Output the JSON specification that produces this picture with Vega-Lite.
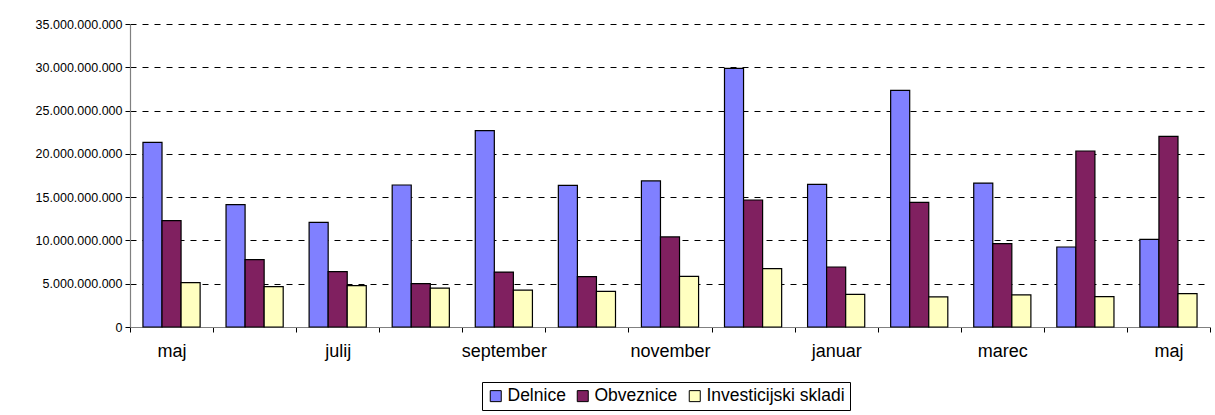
{
  "$schema": "https://vega.github.io/schema/vega-lite/v6.json",
  "width": 1080,
  "height": 303,
  "autosize": "none",
  "padding": {"left": 130, "top": 24, "right": 5, "bottom": 88},
  "background": "white",
  "data": {"values": [
    {"m": 1, "s": "Delnice", "v": 21.33}, {"m": 1, "s": "Obveznice", "v": 12.28}, {"m": 1, "s": "Investicijski skladi", "v": 5.12},
    {"m": 2, "s": "Delnice", "v": 14.13}, {"m": 2, "s": "Obveznice", "v": 7.78}, {"m": 2, "s": "Investicijski skladi", "v": 4.66},
    {"m": 3, "s": "Delnice", "v": 12.09}, {"m": 3, "s": "Obveznice", "v": 6.39}, {"m": 3, "s": "Investicijski skladi", "v": 4.77},
    {"m": 4, "s": "Delnice", "v": 16.4}, {"m": 4, "s": "Obveznice", "v": 5.0}, {"m": 4, "s": "Investicijski skladi", "v": 4.5},
    {"m": 5, "s": "Delnice", "v": 22.68}, {"m": 5, "s": "Obveznice", "v": 6.35}, {"m": 5, "s": "Investicijski skladi", "v": 4.27},
    {"m": 6, "s": "Delnice", "v": 16.37}, {"m": 6, "s": "Obveznice", "v": 5.81}, {"m": 6, "s": "Investicijski skladi", "v": 4.12},
    {"m": 7, "s": "Delnice", "v": 16.87}, {"m": 7, "s": "Obveznice", "v": 10.4}, {"m": 7, "s": "Investicijski skladi", "v": 5.85},
    {"m": 8, "s": "Delnice", "v": 29.88}, {"m": 8, "s": "Obveznice", "v": 14.67}, {"m": 8, "s": "Investicijski skladi", "v": 6.74},
    {"m": 9, "s": "Delnice", "v": 16.48}, {"m": 9, "s": "Obveznice", "v": 6.93}, {"m": 9, "s": "Investicijski skladi", "v": 3.77},
    {"m": 10, "s": "Delnice", "v": 27.34}, {"m": 10, "s": "Obveznice", "v": 14.4}, {"m": 10, "s": "Investicijski skladi", "v": 3.47},
    {"m": 11, "s": "Delnice", "v": 16.63}, {"m": 11, "s": "Obveznice", "v": 9.63}, {"m": 11, "s": "Investicijski skladi", "v": 3.7},
    {"m": 12, "s": "Delnice", "v": 9.24}, {"m": 12, "s": "Obveznice", "v": 20.33}, {"m": 12, "s": "Investicijski skladi", "v": 3.5},
    {"m": 13, "s": "Delnice", "v": 10.13}, {"m": 13, "s": "Obveznice", "v": 22.03}, {"m": 13, "s": "Investicijski skladi", "v": 3.85}
  ]},
  "mark": {"type": "bar", "stroke": "black", "strokeWidth": 1.2},
  "encoding": {
    "x": {
      "field": "m", "type": "ordinal",
      "scale": {"paddingInner": 0, "paddingOuter": 0},
      "axis": {
        "title": null, "labelAngle": 0, "tickBand": "extent",
        "labelExpr": "datum.value % 2 == 1 ? ['maj','junij','julij','avgust','september','oktober','november','december','januar','februar','marec','april','maj'][datum.value - 1] : ''",
        "labelFont": "Liberation Sans", "labelFontSize": 18, "labelColor": "black", "labelPadding": 10,
        "domainColor": "#808080", "tickColor": "black", "tickSize": 5, "grid": false
      }
    },
    "xOffset": {"field": "s", "type": "nominal", "sort": ["Delnice", "Obveznice", "Investicijski skladi"],
      "scale": {"paddingInner": 0, "paddingOuter": 0.68}},
    "y": {
      "field": "v", "type": "quantitative",
      "scale": {"domain": [0, 35], "nice": false},
      "axis": {
        "title": null, "values": [0, 5, 10, 15, 20, 25, 30, 35],
        "labelExpr": "datum.value == 0 ? '0' : replace(format(datum.value * 1000000000, ','), /,/g, '.')",
        "labelFont": "Liberation Sans", "labelFontSize": 12.5, "labelColor": "black", "labelPadding": 3,
        "domainColor": "#808080", "tickColor": "black", "tickSize": 5,
        "grid": true, "gridColor": "black", "gridDash": [6, 6], "gridWidth": 1
      }
    },
    "color": {
      "field": "s", "type": "nominal", "sort": ["Delnice", "Obveznice", "Investicijski skladi"],
      "scale": {"domain": ["Delnice", "Obveznice", "Investicijski skladi"], "range": ["#8080FF", "#802060", "#FFFFC0"]},
      "legend": {
        "title": null, "orient": "none", "legendX": 352, "legendY": 358, "direction": "horizontal",
        "symbolType": "square", "symbolSize": 121, "symbolStrokeColor": "black", "symbolStrokeWidth": 1,
        "labelFont": "Liberation Sans", "labelFontSize": 17.5, "labelColor": "black", "labelLimit": 400,
        "columnPadding": 8, "symbolOffset": 0, "labelOffset": 3,
        "strokeColor": "black", "padding": 5, "fillColor": "white"
      }
    }
  },
  "config": {"view": {"stroke": null}, "axis": {"domainWidth": 1.2}}
}
